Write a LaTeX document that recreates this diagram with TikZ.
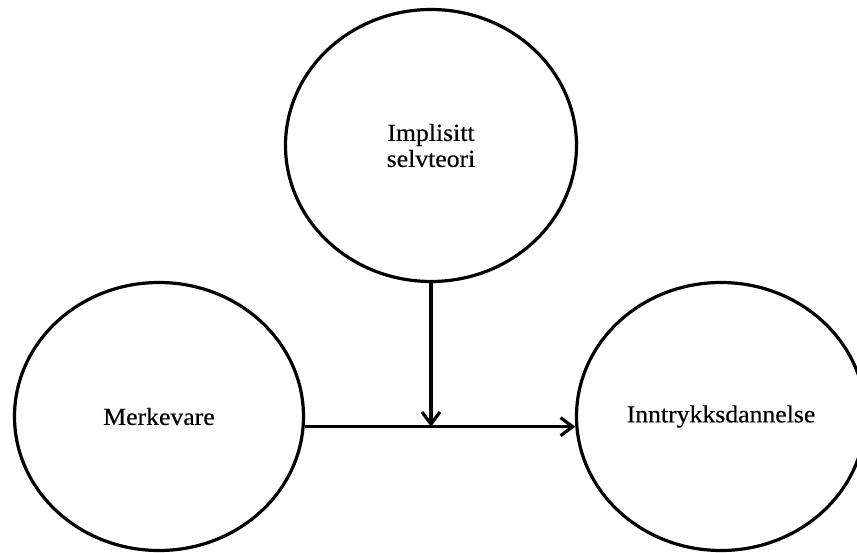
\documentclass[tikz,border=0pt]{standalone}
\usepackage{fontspec}
\setmainfont{Liberation Serif}[FakeStretch=1.05,FakeBold=0.4]
\usetikzlibrary{shapes.geometric,arrows.meta}
\begin{document}
\begin{tikzpicture}[x=1pt,y=-1pt,
  bubble/.style={draw,ellipse,line width=3.2pt,inner sep=0pt,align=center,font=\fontsize{24.5}{26}\selectfont},
  conn/.style={line width=3.2pt,-{Straight Barb[length=12pt,width=18pt]}}]
\useasboundingbox (0,0) rectangle (857,553);
\clip (0,0) rectangle (857,553);
\node[bubble,minimum width=291pt,minimum height=272pt] (top) at (431,145.5) {\raisebox{-2pt}{Implisitt}\\\raisebox{-2pt}{selvteori}};
\node[bubble,minimum width=289pt,minimum height=268pt] (left) at (159,416.5) {\raisebox{-5pt}{Merkevare}};
\node[bubble,minimum width=289pt,minimum height=268pt] (right) at (721,416.5) {\raisebox{-5pt}{Inntrykksdannelse}};
\draw[conn] (left.-4.1) -- (right.184.1);
\coordinate (j) at (top.south |- left.-4.1);
\draw[conn] (top.south) -- (j);
\end{tikzpicture}
\end{document}
